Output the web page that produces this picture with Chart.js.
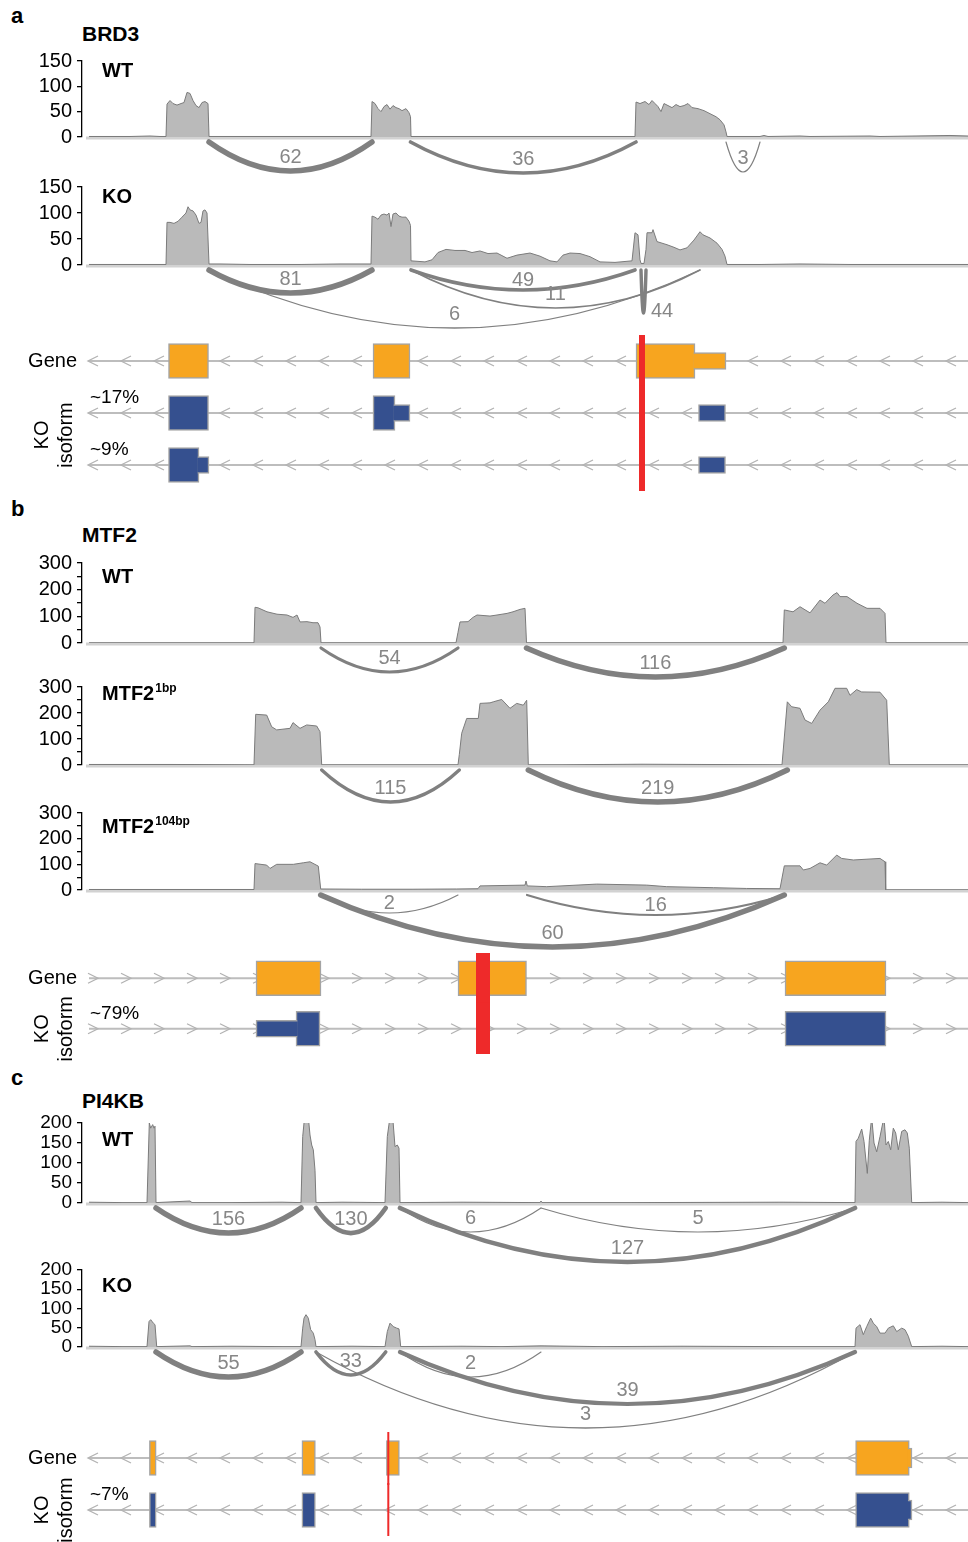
<!DOCTYPE html>
<html>
<head>
<meta charset="utf-8">
<script src="https://cdn.jsdelivr.net/npm/chart.js@4.4.1/dist/chart.umd.min.js"></script>
<style>
  body { margin: 0; width: 968px; height: 1542px; overflow: hidden; background: #fff; position: relative;
         font-family: "Liberation Sans", Arial, Helvetica, sans-serif; }
  canvas { position: absolute; left: 0; }
  .t { position: absolute; font-weight: bold; color: #000; line-height: 1; white-space: nowrap; }
</style>
</head>
<body>
<div class="t" style="left:11px;top:5px;font-size:22px">a</div>
<div class="t" style="left:82px;top:23px;font-size:21px">BRD3</div>
<div class="t" style="left:11px;top:498px;font-size:22px">b</div>
<div class="t" style="left:82px;top:524px;font-size:21px">MTF2</div>
<div class="t" style="left:11px;top:1067px;font-size:22px">c</div>
<div class="t" style="left:82px;top:1090px;font-size:21px">PI4KB</div>

<script>
// ---- coverage (position bins along the locus, read depth) ----
var brd3WtPos = [7, 48, 68, 78, 84,
  85, 88, 91, 95, 99, 102, 105, 108, 111, 114, 117, 120, 123, 126,
  127, 143, 178, 218, 258, 283, 289,
  290, 293, 296, 299, 302, 305, 308, 311, 314, 317, 320, 324, 327, 328.5,
  329, 368, 418, 478, 518, 553,
  554, 558, 563, 567, 570, 573, 576, 579, 582, 586, 590, 594, 598, 602, 606, 610, 616, 622, 628, 634, 638, 642, 644,
  645, 678, 682, 686, 718, 728, 788, 798, 868, 886];
var brd3WtCov = [1, 1, 2, 1, 1,
  65, 72, 66, 63, 66, 68, 88, 86, 72, 62, 58, 68, 70, 66,
  1, 1, 1, 1, 1, 1, 1,
  70, 66, 56, 50, 60, 64, 55, 62, 58, 56, 52, 56, 48, 40,
  1, 1, 1, 1, 1, 1,
  69, 66, 70, 64, 72, 66, 60, 50, 66, 62, 58, 64, 60, 62, 66, 58, 56, 52, 46, 40, 34, 24, 10,
  1, 1, 3, 1, 2, 1, 2, 1, 3, 2];

var brd3KoPos = [7, 60, 84,
  85, 88, 92, 96, 100, 104, 106, 108, 111, 114, 117, 119, 121, 123, 125,
  127, 138, 168, 218, 258, 283, 289,
  290, 293, 296, 299, 302, 305, 307, 309, 311, 314, 317, 320, 324, 327, 328.5,
  329, 343, 350, 356, 364, 373, 383, 390, 398, 406, 415, 425, 435, 448, 458, 468, 475, 481, 488, 498, 508, 518, 533, 550,
  553, 556, 558, 559, 562, 564, 565, 570, 571, 575, 580, 585, 592, 598, 605, 612, 618, 621, 628, 635, 640, 643,
  645, 678, 718, 768, 828, 886];
var brd3KoCov = [1, 1, 1,
  82, 82, 80, 84, 92, 100, 112, 106, 104, 96, 80, 82, 104, 106, 100,
  2, 2, 1, 1, 2, 2, 2,
  94, 92, 88, 96, 98, 96, 100, 74, 98, 100, 94, 92, 92, 84, 76,
  8, 6, 10, 24, 30, 28, 28, 24, 27, 22, 23, 13, 19, 23, 17, 8, 6, 19, 23, 22, 16, 6, 5, 8,
  62, 58, 10, 3, 3, 30, 62, 62, 68, 45, 42, 39, 34, 29, 33, 48, 64, 58, 52, 42, 30, 17,
  1, 1, 2, 1, 1, 1];

var mtf2WtPos = [7, 100, 172,
  173, 176, 185, 195, 205, 211, 215, 218, 225, 231, 236, 238,
  239, 300, 374,
  376, 378, 386, 391, 395, 408, 415, 425, 431, 438, 443,
  444.5, 520, 600, 701,
  702.3, 711, 718, 728, 738, 743, 751, 755, 758, 765, 775, 785, 798, 803,
  804, 850, 886];
var mtf2WtCov = [1, 1, 1,
  134, 132, 117, 108, 105, 96, 105, 79, 80, 76, 76, 60,
  1, 1, 1,
  40, 79, 80, 96, 105, 101, 105, 111, 117, 126, 130,
  1, 1, 1, 1,
  124, 117, 136, 113, 161, 149, 180, 189, 174, 174, 149, 130, 130, 111,
  1, 1, 1];

var mtf2Del1Pos = [7, 90, 172,
  173.7, 184.7, 189.7, 194.7, 208, 211, 218, 224.7, 234.7, 238,
  239.7, 300, 376,
  377.3, 379.7, 384.7, 396.3, 398, 408, 411.3, 419.7, 428, 434.7, 441.3, 444.7,
  446.3, 480, 560, 620, 700,
  705.3, 709.7, 718, 723, 729.7, 738, 746.3, 753, 764.7, 768, 774.7, 779.7, 798, 804.7,
  807.3, 886];
var mtf2Del1Cov = [2, 2, 1,
  195, 192, 147, 135, 141, 163, 141, 154, 150, 128,
  1, 1, 1,
  40, 122, 179, 179, 237, 239, 243, 252, 218, 237, 230, 249,
  1, 1, 3, 2, 1,
  243, 224, 218, 173, 160, 211, 243, 295, 295, 268, 290, 281, 280, 249,
  1, 1];

var mtf2Del104Pos = [7, 100, 172,
  173, 184.7, 188, 194.7, 211.3, 221.3, 228, 236.3,
  238.7, 279.7, 330, 374.7, 396, 398, 443, 444, 445.3, 464.7, 514.7, 564.7, 584.7, 631.3, 664.7, 698,
  702.3, 718, 721.3, 728, 738, 744.7, 754.7, 759.7, 771.3, 798, 803,
  803.7, 850, 886];
var mtf2Del104Cov = [2, 2, 2,
  103, 97, 84, 100, 100, 106, 110, 93,
  4, 3, 3, 4, 5, 16, 19, 35, 16, 13, 23, 19, 13, 9, 6, 5,
  94, 94, 78, 84, 106, 97, 136, 123, 117, 123, 110,
  1, 1, 1];

var pi4kbWtPos = [7, 40, 65,
  65.7, 67.3, 68.7, 70.7, 72, 73,
  74, 108, 110, 150, 200, 218,
  219, 220.7, 222, 223, 226.3, 228, 229.7, 231.3, 233,
  234, 260, 303,
  303.7, 305.3, 308, 310.7, 313, 315.3, 317,
  318, 380, 458, 459, 460, 550, 700, 772,
  773, 774, 776.3, 779.7, 782, 785.3, 787.3, 789.7, 792, 794.7, 798, 802, 804, 806.3, 808.7, 811.3, 813.7, 816.3, 819.7, 823, 825.3, 827.3,
  829.7, 860, 886];
var pi4kbWtCov = [2, 1, 1,
  1, 200, 187, 196, 187, 192,
  1, 5, 1, 1, 2, 1,
  1, 166, 200, 215, 215, 170, 145, 133, 82,
  1, 2, 1,
  1, 166, 215, 215, 141, 145, 137,
  1, 2, 1, 5, 1, 1, 2, 1,
  1, 154, 162, 185, 154, 74, 157, 215, 150, 128, 166, 215, 145, 154, 133, 187, 175, 133, 179, 183, 175, 137,
  1, 2, 1];

var pi4kbKoPos = [7, 40, 65,
  65.7, 67, 68.7, 71.3, 73,
  74.7, 108, 110, 150, 200, 218,
  219, 220.7, 222, 224, 226.3, 228.7, 231.3, 233,
  234, 270, 302,
  303, 305.3, 308, 311.3, 314.7, 317,
  318.7, 380, 420, 459, 520, 600, 700, 772,
  773, 774, 778, 781.3, 784.7, 788.7, 791.3, 794.7, 798, 803, 806.3, 811.3, 814.7, 819.7, 823, 826.3,
  829.7, 860, 886];
var pi4kbKoCov = [2, 1, 1,
  1, 66, 71, 62, 58,
  1, 3, 1, 2, 1, 1,
  1, 49, 75, 84, 75, 45, 36, 19,
  1, 2, 1,
  1, 40, 62, 53, 49, 47,
  1, 2, 1, 3, 1, 2, 1, 1,
  1, 49, 58, 32, 53, 75, 62, 53, 36, 36, 49, 55, 40, 49, 45, 28,
  1, 2, 1];

// ---- splice junctions (donor, acceptor, read count) ----
var brd3WtJStart = [127, 328.5, 644];
var brd3WtJEnd   = [290, 554, 678];
var brd3WtJCount = [62, 36, 3];
var brd3KoJStart = [127, 329, 329, 127, 559];
var brd3KoJEnd   = [290, 553, 618, 618, 564];
var brd3KoJCount = [81, 49, 11, 6, 44];

var mtf2WtJStart = [239, 444.5];
var mtf2WtJEnd   = [376, 702.3];
var mtf2WtJCount = [54, 116];
var mtf2Del1JStart = [239.7, 446.3];
var mtf2Del1JEnd   = [377.3, 705.3];
var mtf2Del1JCount = [115, 219];
var mtf2Del104JStart = [238.7, 445, 238.7];
var mtf2Del104JEnd   = [376, 702.3, 702.3];
var mtf2Del104JCount = [2, 16, 60];

var pi4kbWtJStart = [74, 234, 318, 459, 318];
var pi4kbWtJEnd   = [219, 303.7, 459, 773, 773];
var pi4kbWtJCount = [156, 130, 6, 5, 127];
var pi4kbKoJStart = [74, 234, 318, 318, 234];
var pi4kbKoJEnd   = [219, 303.7, 459, 773, 773];
var pi4kbKoJCount = [55, 33, 2, 39, 3];

// ---- gene models ----
var brd3Rows = ['Gene', 'KO isoform 1', 'KO isoform 2'];
var brd3CdsRow   = ['Gene', 'Gene', 'Gene', 'KO isoform 1', 'KO isoform 1', 'KO isoform 2'];
var brd3CdsStart = [86.5, 291, 554, 86.5, 291, 86.5];
var brd3CdsEnd   = [126.5, 328, 613, 126.5, 313, 117];
var brd3UtrRow   = ['Gene', 'KO isoform 1', 'KO isoform 1', 'KO isoform 2', 'KO isoform 2'];
var brd3UtrStart = [613, 313, 616.5, 117, 616.5];
var brd3UtrEnd   = [644, 328, 643.5, 127, 643.5];
var brd3Mutation = [557, 563];
var brd3IsoShare = ['~17%', '~9%'];

var mtf2Rows = ['Gene', 'KO isoform 1'];
var mtf2CdsRow   = ['Gene', 'Gene', 'Gene', 'KO isoform 1', 'KO isoform 1'];
var mtf2CdsStart = [174, 376, 703, 214, 703];
var mtf2CdsEnd   = [239, 444.5, 804, 238, 804];
var mtf2UtrRow   = ['KO isoform 1'];
var mtf2UtrStart = [174];
var mtf2UtrEnd   = [214];
var mtf2Mutation = [394, 408];
var mtf2IsoShare = ['~79%'];

var pi4kbRows = ['Gene', 'KO isoform 1'];
var pi4kbCdsRow   = ['Gene', 'Gene', 'Gene', 'Gene', 'KO isoform 1', 'KO isoform 1', 'KO isoform 1'];
var pi4kbCdsStart = [67.4, 219.9, 304.4, 773.6, 67.4, 219.9, 773.6];
var pi4kbCdsEnd   = [74.2, 233.4, 317.4, 827.3, 74.2, 233.4, 827.3];
var pi4kbUtrRow   = ['Gene', 'KO isoform 1'];
var pi4kbUtrStart = [827.3, 827.3];
var pi4kbUtrEnd   = [830, 830];
var pi4kbMutation = [305.3, 307.3];
var pi4kbIsoShare = ['~7%'];

// ---- drawing ----
var FONT = '"Liberation Sans", Arial, Helvetica, sans-serif';
var ORANGE = '#f7a51f', BLUE = '#35508f', RED = '#ee2a2a';
var PAD_TOP = 20;
var XMAX = 886;
Chart.defaults.font.family = FONT;

function sashimi(cfg) {
  return {
    id: 'sashimi',
    beforeDatasetsDraw: function (chart) {
      var a = chart.chartArea, ctx = chart.ctx;
      ctx.save();
      ctx.fillStyle = '#d2d2d2';
      ctx.fillRect(a.left + 4, a.bottom - 0.5, a.right - a.left - 4, 3);
      ctx.restore();
    },
    afterDatasetsDraw: function (chart) {
      var a = chart.chartArea, ctx = chart.ctx, x = chart.scales.x;
      var y1 = a.bottom + 5;
      var maxC = Math.max.apply(null, cfg.jCount);
      ctx.save();
      ctx.lineCap = 'round';
      cfg.jStart.forEach(function (s, i) {
        var xs = x.getPixelForValue(s), xe = x.getPixelForValue(cfg.jEnd[i]);
        var bend = cfg.bend[i], xm = (xs + xe) / 2, yb = y1 + bend;
        ctx.beginPath();
        ctx.moveTo(xs, y1);
        ctx.quadraticCurveTo(xm, y1 + 2 * bend, xe, y1);
        ctx.lineWidth = 1 + 4.5 * cfg.jCount[i] / maxC;
        ctx.strokeStyle = '#808080';
        ctx.stroke();
        ctx.fillStyle = '#878787';
        ctx.font = '20px ' + FONT;
        ctx.textBaseline = 'middle';
        if (xe - xs < 12) {
          ctx.textAlign = 'left';
          ctx.fillText(String(cfg.jCount[i]), xe + 5, yb - 2);
        } else {
          ctx.textAlign = 'center';
          ctx.fillText(String(cfg.jCount[i]), xm, yb - (bend < 22 ? 10 : 14));
        }
      });
      ctx.fillStyle = '#000';
      ctx.textAlign = 'left';
      ctx.textBaseline = 'alphabetic';
      ctx.font = 'bold 20px ' + FONT;
      ctx.fillText(cfg.label, a.left + 20, a.top + cfg.labelDy);
      if (cfg.sup) {
        var w = ctx.measureText(cfg.label).width;
        ctx.font = 'bold 12px ' + FONT;
        ctx.fillText(cfg.sup, a.left + 21 + w, a.top + cfg.labelDy - 8);
      }
      ctx.restore();
    }
  };
}

function track(cfg) {
  var cv = document.createElement('canvas');
  cv.width = 968;
  cv.height = PAD_TOP + cfg.h + cfg.arc;
  cv.style.top = (cfg.top - PAD_TOP) + 'px';
  document.body.appendChild(cv);
  var pts = cfg.pos.map(function (p, i) { return { x: p, y: cfg.cov[i] }; });
  new Chart(cv, {
    type: 'line',
    data: { datasets: [{ data: pts, fill: 'origin', backgroundColor: '#bababa', borderColor: '#7b7b7b',
                         borderWidth: 1, pointRadius: 0, tension: 0 }] },
    options: {
      responsive: false, animation: false, devicePixelRatio: 1,
      layout: { padding: { top: PAD_TOP, bottom: cfg.arc, left: 0, right: 0 } },
      plugins: { legend: { display: false }, tooltip: { enabled: false } },
      scales: {
        x: { type: 'linear', min: 0, max: XMAX, display: false },
        y: {
          min: 0, max: cfg.ymax,
          afterFit: function (s) { s.width = 82; },
          border: { display: true, color: '#000', width: 1.3 },
          grid: { drawOnChartArea: false, drawTicks: true, tickLength: 5, color: '#000', lineWidth: 1.3 },
          ticks: { stepSize: 50, autoSkip: false, padding: 5, color: '#000', font: { size: cfg.tickSize },
                   callback: function (v) { return v % cfg.labelStep === 0 ? v : ''; } }
        }
      }
    },
    plugins: [sashimi(cfg)]
  });
}

function geneModel(cfg) {
  var cv = document.createElement('canvas');
  cv.width = 968;
  cv.height = cfg.h + 20;
  cv.style.top = (cfg.top - 10) + 'px';
  document.body.appendChild(cv);

  var cds = cfg.cdsRow.map(function (r, i) { return { y: r, x: [cfg.cdsStart[i], cfg.cdsEnd[i]] }; });
  var utr = cfg.utrRow.map(function (r, i) {
    var s = cfg.utrStart[i], e = cfg.utrEnd[i], skip = false;
    cfg.cdsRow.forEach(function (cr, k) {
      if (cr !== r) return;
      if (cfg.cdsEnd[k] === s) { skip = 'left'; s -= 1.5; }
      if (cfg.cdsStart[k] === e) { skip = 'right'; e += 1.5; }
    });
    return { y: r, x: [s, e], skip: skip };
  });
  var mut = cfg.rows.map(function (r) { return { y: r, x: cfg.mut }; });
  var fill = function (c) { return c.raw && c.raw.y === 'Gene' ? ORANGE : BLUE; };

  new Chart(cv, {
    type: 'bar',
    data: {
      labels: cfg.rows,
      datasets: [
        { data: mut, backgroundColor: RED, borderWidth: 0, barPercentage: 1.04, categoryPercentage: 1,
          grouped: false, order: 0 },
        { data: utr, backgroundColor: fill, borderColor: '#a4a4a4', borderWidth: 1.5,
          borderSkipped: function (c) { return c.raw ? c.raw.skip : false; },
          barThickness: cfg.utrH, grouped: false, order: 1 },
        { data: cds, backgroundColor: fill, borderColor: '#a4a4a4', borderWidth: 1.5, borderSkipped: false,
          barThickness: cfg.cdsH, grouped: false, order: 2 }
      ]
    },
    options: {
      indexAxis: 'y', responsive: false, animation: false, devicePixelRatio: 1,
      layout: { padding: { top: 10, bottom: 10, left: 82, right: 0 } },
      plugins: { legend: { display: false }, tooltip: { enabled: false } },
      scales: {
        x: { type: 'linear', min: 0, max: XMAX, display: false },
        y: { type: 'category', display: false, offset: true }
      }
    },
    plugins: [{
      id: 'introns',
      beforeDatasetsDraw: function (chart) {
        var a = chart.chartArea, ctx = chart.ctx, y = chart.scales.y;
        ctx.save();
        cfg.rows.forEach(function (r, i) {
          var py = y.getPixelForValue(i);
          ctx.strokeStyle = '#bdbdbd';
          ctx.lineWidth = 2.2;
          ctx.beginPath(); ctx.moveTo(a.left + 7, py); ctx.lineTo(a.right, py); ctx.stroke();
          ctx.lineWidth = 1.3;
          ctx.strokeStyle = '#b3b3b3';
          var d = cfg.strand === '-' ? 1 : -1;
          for (var cx = a.left + 11; cx < a.right - 4; cx += 33) {
            ctx.beginPath();
            ctx.moveTo(cx + 5 * d, py - 5); ctx.lineTo(cx - 5 * d, py); ctx.lineTo(cx + 5 * d, py + 5);
            ctx.stroke();
          }
        });
        ctx.restore();
      },
      afterDraw: function (chart) {
        var a = chart.chartArea, ctx = chart.ctx, y = chart.scales.y;
        ctx.save();
        ctx.fillStyle = '#000';
        ctx.textBaseline = 'middle';
        ctx.font = '20px ' + FONT;
        ctx.textAlign = 'right';
        ctx.fillText('Gene', a.left - 5, y.getPixelForValue(0));
        ctx.textAlign = 'left';
        ctx.font = '19px ' + FONT;
        var ys = [];
        cfg.share.forEach(function (t, i) {
          var py = y.getPixelForValue(i + 1);
          ys.push(py);
          ctx.fillText(t, a.left + 8, py - 15);
        });
        var cy = ys.reduce(function (s, v) { return s + v; }, 0) / ys.length - (ys.length > 1 ? 4 : 0);
        ctx.font = '20px ' + FONT;
        ctx.textAlign = 'center';
        [['KO', 42], ['isoform', 66]].forEach(function (p) {
          ctx.save();
          ctx.translate(p[1], cy);
          ctx.rotate(-Math.PI / 2);
          ctx.fillText(p[0], 0, 0);
          ctx.restore();
        });
        ctx.restore();
      }
    }]
  });
}

// panel a
track({ pos: brd3WtPos, cov: brd3WtCov, jStart: brd3WtJStart, jEnd: brd3WtJEnd, jCount: brd3WtJCount,
        bend: [29, 31, 30], label: 'WT', top: 61, h: 76, arc: 48, labelDy: 16, ymax: 150, labelStep: 50, tickSize: 20 });
track({ pos: brd3KoPos, cov: brd3KoCov, jStart: brd3KoJStart, jEnd: brd3KoJEnd, jCount: brd3KoJCount,
        bend: [23, 20, 38, 58, 43], label: 'KO', top: 187, h: 78, arc: 74, labelDy: 16, ymax: 150, labelStep: 50, tickSize: 20 });
geneModel({ rows: brd3Rows, cdsRow: brd3CdsRow, cdsStart: brd3CdsStart, cdsEnd: brd3CdsEnd,
            utrRow: brd3UtrRow, utrStart: brd3UtrStart, utrEnd: brd3UtrEnd, mut: brd3Mutation,
            share: brd3IsoShare, strand: '-', top: 335, h: 156, cdsH: 35, utrH: 17 });

// panel b
track({ pos: mtf2WtPos, cov: mtf2WtCov, jStart: mtf2WtJStart, jEnd: mtf2WtJEnd, jCount: mtf2WtJCount,
        bend: [24, 29], label: 'WT', top: 563, h: 80, arc: 44, labelDy: 20, ymax: 300, labelStep: 100, tickSize: 20 });
track({ pos: mtf2Del1Pos, cov: mtf2Del1Cov, jStart: mtf2Del1JStart, jEnd: mtf2Del1JEnd, jCount: mtf2Del1JCount,
        bend: [32, 32], label: 'MTF2', sup: '1bp', top: 687, h: 78, arc: 46, labelDy: 13, ymax: 300, labelStep: 100, tickSize: 20 });
track({ pos: mtf2Del104Pos, cov: mtf2Del104Cov, jStart: mtf2Del104JStart, jEnd: mtf2Del104JEnd, jCount: mtf2Del104JCount,
        bend: [18, 20, 52], label: 'MTF2', sup: '104bp', top: 813, h: 77, arc: 64, labelDy: 20, ymax: 300, labelStep: 100, tickSize: 20 });
geneModel({ rows: mtf2Rows, cdsRow: mtf2CdsRow, cdsStart: mtf2CdsStart, cdsEnd: mtf2CdsEnd,
            utrRow: mtf2UtrRow, utrStart: mtf2UtrStart, utrEnd: mtf2UtrEnd, mut: mtf2Mutation,
            share: mtf2IsoShare, strand: '+', top: 953, h: 101, cdsH: 35, utrH: 17 });

// panel c
track({ pos: pi4kbWtPos, cov: pi4kbWtCov, jStart: pi4kbWtJStart, jEnd: pi4kbWtJEnd, jCount: pi4kbWtJCount,
        bend: [25, 25, 24, 24, 54], label: 'WT', top: 1123, h: 80, arc: 66, labelDy: 23, ymax: 200, labelStep: 50, tickSize: 19 });
track({ pos: pi4kbKoPos, cov: pi4kbKoCov, jStart: pi4kbKoJStart, jEnd: pi4kbKoJEnd, jCount: pi4kbKoJCount,
        bend: [25, 23, 25, 52, 76], label: 'KO', top: 1270, h: 77, arc: 90, labelDy: 22, ymax: 200, labelStep: 50, tickSize: 19 });
geneModel({ rows: pi4kbRows, cdsRow: pi4kbCdsRow, cdsStart: pi4kbCdsStart, cdsEnd: pi4kbCdsEnd,
            utrRow: pi4kbUtrRow, utrStart: pi4kbUtrStart, utrEnd: pi4kbUtrEnd, mut: pi4kbMutation,
            share: pi4kbIsoShare, strand: '-', top: 1432, h: 104, cdsH: 35, utrH: 20 });
</script>
</body>
</html>
